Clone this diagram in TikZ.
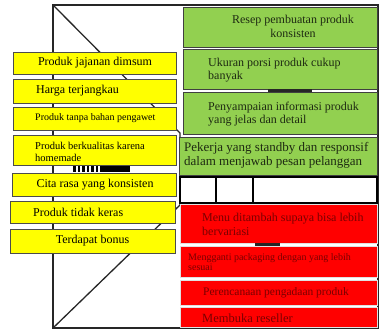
\documentclass[tikz,border=0pt]{standalone}
\usepackage{fontspec}
\setmainfont{Liberation Serif}
\definecolor{ybox}{HTML}{FFFF00}
\definecolor{gbox}{HTML}{92D050}
\definecolor{rbox}{HTML}{FF0000}
\definecolor{gtext}{HTML}{1E2A12}
\definecolor{rtext}{HTML}{7A0000}
\newcommand{\fs}[2]{\fontsize{#1}{#2}\selectfont}
\begin{document}
\begin{tikzpicture}[x=1pt,y=-1pt,
  frame/.style={draw=black!85, line width=2pt},
  diag/.style={draw=black!85, line width=1.3pt},
  box/.style={rectangle, inner sep=0pt, outer sep=0pt},
  ybx/.style={box, fill=ybox, draw=black!70, line width=0.8pt},
  gbx/.style={box, fill=gbox, draw=black!75, line width=1pt},
  wbx/.style={box, fill=white, draw=black, line width=2pt},
  rbx/.style={box, fill=rbox, draw=black!12, line width=1pt},
  lbl/.style={inner sep=0pt, align=left},
  ylbl/.style={lbl, text=black},
  glbl/.style={lbl, text=gtext},
  rlbl/.style={lbl, text=rtext}]
\useasboundingbox (0,0) rectangle (380,331);
% frame (perspective room)
\coordinate (A) at (53,5);
\coordinate (C) at (378,328);
\coordinate (D) at (53,328);
\coordinate (E) at (180,133);
\coordinate (F) at (180,205);
\draw[frame] (A) rectangle (C);
\draw[diag] (A) -- (E) -- (F) -- (D);
% black artefacts
\fill[black] (100,165) rectangle (130,172);
\foreach \x in {73,77.5,82,86.5,91,95.5}{\fill[black] (\x,165) rectangle (\x+2.5,172);}
% yellow boxes
\node[ybx, minimum width=163pt, minimum height=22pt] (y1) at (94.5,63) {};
\node[ybx, minimum width=163pt, minimum height=24pt] (y2) at (94.5,91) {};
\node[ybx, minimum width=163pt, minimum height=23pt] (y3) at (94.5,118.5) {};
\node[ybx, minimum width=163pt, minimum height=30pt] (y4) at (94.5,150) {};
\node[ybx, minimum width=164pt, minimum height=23pt] (y5) at (94,184.5) {};
\node[ybx, minimum width=165pt, minimum height=22pt] (y6) at (92.5,212) {};
\node[ybx, minimum width=165pt, minimum height=24pt] (y7) at (92.5,241) {};
\node[ylbl, font=\fs{12}{13}] (t1) at (95,63) {Produk jajanan dimsum};
\node[ylbl, font=\fs{12}{13}, anchor=west] (t2) at (36,91) {Harga terjangkau};
\node[ylbl, font=\fs{10}{11}, anchor=west] (t3) at (35,118.5) {Produk tanpa bahan pengawet};
\node[ylbl, font=\fs{10.5}{11.5}, anchor=west] (t4) at (35,152) {Produk berkualitas karena\\homemade};
\node[ylbl, font=\fs{12}{13}] (t5) at (95,184.5) {Cita rasa yang konsisten};
\node[ylbl, font=\fs{12}{13}, anchor=west] (t6) at (33,212) {Produk tidak keras};
\node[ylbl, font=\fs{12}{13}] (t7) at (92.5,241) {Terdapat bonus};
% green boxes
\node[gbx, minimum width=194pt, minimum height=40pt] (g1) at (280,28) {};
\node[gbx, minimum width=194pt, minimum height=40pt] (g2) at (280,70) {};
\node[gbx, minimum width=194pt, minimum height=42pt] (g3) at (280,114) {};
\node[gbx, minimum width=198pt, minimum height=38pt] (g4) at (278,157) {};
\fill[black!85] (268,89) rectangle (312,92);
\node[glbl, align=center, font=\fs{12}{13.5}] (gt1) at (293,26.5) {Resep pembuatan produk\\konsisten};
\node[glbl, font=\fs{12}{13.5}, anchor=west] (gt2) at (208,70) {Ukuran porsi produk cukup\\banyak};
\node[glbl, font=\fs{12}{13.5}, anchor=west] (gt3) at (208,114) {Penyampaian informasi produk\\yang jelas dan detail};
\node[glbl, font=\fs{13}{13.5}, anchor=west] (gt4) at (184,155.5) {Pekerja yang standby dan responsif\\dalam menjawab pesan pelanggan};
% white boxes
\node[wbx, minimum width=36pt, minimum height=26pt] (w1) at (198,190) {};
\node[wbx, minimum width=37pt, minimum height=26pt] (w2) at (234.5,190) {};
\node[wbx, minimum width=124pt, minimum height=26pt] (w3) at (315,190) {};
% red boxes
\node[rbx, minimum width=197pt, minimum height=38pt] (r1) at (278.5,224) {};
\node[rbx, minimum width=197pt, minimum height=31pt] (r2) at (278.5,261.5) {};
\node[rbx, minimum width=197pt, minimum height=25pt] (r3) at (278.5,292.5) {};
\node[rbx, minimum width=197pt, minimum height=20pt] (r4) at (278.5,317) {};
\fill[black!85] (255,243) rectangle (280,245.5);
\node[rlbl, font=\fs{12}{14}, anchor=west] (rt1) at (202,224.5) {Menu ditambah supaya bisa lebih\\bervariasi};
\node[rlbl, font=\fs{10}{10.5}, anchor=west] (rt2) at (188,262) {Mengganti packaging dengan yang lebih\\sesuai};
\node[rlbl, font=\fs{11.5}{12}, anchor=west] (rt3) at (203,292.5) {Perencanaan pengadaan produk};
\node[rlbl, font=\fs{12.5}{13}, anchor=west] (rt4) at (202,318) {Membuka reseller};
\end{tikzpicture}
\end{document}
